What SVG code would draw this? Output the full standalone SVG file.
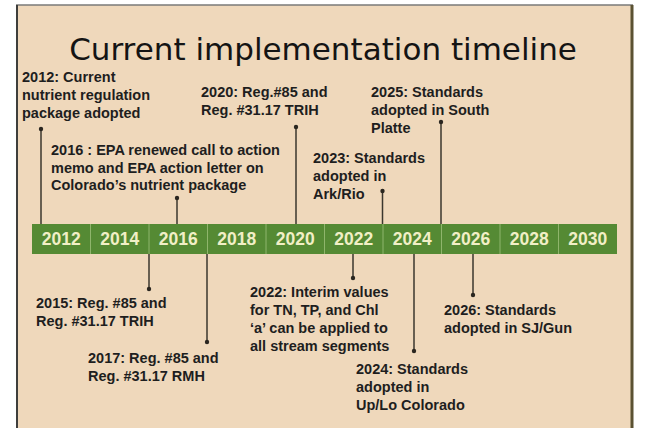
<svg xmlns="http://www.w3.org/2000/svg" width="646" height="428" viewBox="0 0 646 428">
  <style>
    .title { font-family: "DejaVu Sans", sans-serif; font-size: 31px; fill: #141414; }
    .lbl { font-family: "Liberation Sans", Arial, sans-serif; font-size: 14.5px; font-weight: bold; fill: #1e1e1e; }
    .yr { font-family: "Liberation Sans", Arial, sans-serif; font-size: 17.5px; font-weight: bold; fill: #f1efc6; text-anchor: middle; }
    .cell { fill: #558a34; }
    .div { stroke: #8fb56c; stroke-width: 1; }
    .conn line { stroke: #3b372e; stroke-width: 1.5; }
    .conn circle { fill: #2a2620; }
  </style>

  <!-- page -->
  <rect x="0" y="0" width="646" height="428" fill="#ffffff"/>
  <rect x="17" y="5" width="615" height="423" fill="#efd8bb"/>
  <line x1="16" y1="5" x2="633" y2="5" stroke="#7a7a78" stroke-width="1.5"/>
  <line x1="17" y1="5" x2="17" y2="428" stroke="#3e3e3c" stroke-width="2"/>
  <line x1="632" y1="5" x2="632" y2="428" stroke="#5b5232" stroke-width="3"/>

  <text class="title" x="323" y="60" text-anchor="middle">Current implementation timeline</text>

  <!-- year bar -->
  <g id="timeline-bar">
    <rect class="cell" x="32" y="224" width="585" height="30"/>
    <line class="div" x1="90.5" y1="224" x2="90.5" y2="254"/>
    <line class="div" x1="149" y1="224" x2="149" y2="254"/>
    <line class="div" x1="207.5" y1="224" x2="207.5" y2="254"/>
    <line class="div" x1="266" y1="224" x2="266" y2="254"/>
    <line class="div" x1="324.5" y1="224" x2="324.5" y2="254"/>
    <line class="div" x1="383" y1="224" x2="383" y2="254"/>
    <line class="div" x1="441.5" y1="224" x2="441.5" y2="254"/>
    <line class="div" x1="500" y1="224" x2="500" y2="254"/>
    <line class="div" x1="558.5" y1="224" x2="558.5" y2="254"/>
    <text class="yr" x="61.3" y="245">2012</text>
    <text class="yr" x="119.8" y="245">2014</text>
    <text class="yr" x="178.3" y="245">2016</text>
    <text class="yr" x="236.8" y="245">2018</text>
    <text class="yr" x="295.3" y="245">2020</text>
    <text class="yr" x="353.8" y="245">2022</text>
    <text class="yr" x="412.3" y="245">2024</text>
    <text class="yr" x="470.8" y="245">2026</text>
    <text class="yr" x="529.3" y="245">2028</text>
    <text class="yr" x="587.8" y="245">2030</text>
  </g>

  <!-- connectors -->
  <g id="connectors" class="conn">
    <line x1="41" y1="129" x2="41" y2="224"/><circle cx="41" cy="129" r="2.2"/>
    <line x1="177" y1="198" x2="177" y2="224"/><circle cx="177" cy="198" r="2.2"/>
    <line x1="296" y1="127" x2="296" y2="224"/><circle cx="296" cy="127" r="2.2"/>
    <line x1="382.5" y1="191" x2="382.5" y2="224"/><circle cx="382.5" cy="191" r="2.2"/>
    <line x1="441" y1="122" x2="441" y2="224"/><circle cx="441" cy="122" r="2.2"/>
    <line x1="149" y1="254" x2="149" y2="289"/><circle cx="149" cy="289" r="2.2"/>
    <line x1="207" y1="254" x2="207" y2="342"/><circle cx="207" cy="342" r="2.2"/>
    <line x1="353" y1="254" x2="353" y2="278"/><circle cx="353" cy="278" r="2.2"/>
    <line x1="414" y1="254" x2="414" y2="351"/><circle cx="414" cy="351" r="2.2"/>
    <line x1="473" y1="254" x2="473" y2="295"/><circle cx="473" cy="295" r="2.2"/>
  </g>

  <!-- events above the bar -->
  <g id="e2012">
    <text class="lbl" x="22" y="82">2012: Current</text>
    <text class="lbl" x="22" y="100">nutrient regulation</text>
    <text class="lbl" x="22" y="118">package adopted</text>
  </g>
  <g id="e2016">
    <text class="lbl" x="51" y="155">2016 : EPA renewed call to action</text>
    <text class="lbl" x="51" y="172.5">memo and EPA action letter on</text>
    <text class="lbl" x="51" y="190">Colorado’s nutrient package</text>
  </g>
  <g id="e2020">
    <text class="lbl" x="201" y="97">2020: Reg.#85 and</text>
    <text class="lbl" x="201" y="115">Reg. #31.17 TRIH</text>
  </g>
  <g id="e2023">
    <text class="lbl" x="313" y="163">2023: Standards</text>
    <text class="lbl" x="313" y="181">adopted in</text>
    <text class="lbl" x="313" y="198.5">Ark/Rio</text>
  </g>
  <g id="e2025">
    <text class="lbl" x="371" y="97">2025: Standards</text>
    <text class="lbl" x="371" y="115">adopted in South</text>
    <text class="lbl" x="371" y="133">Platte</text>
  </g>

  <!-- events below the bar -->
  <g id="e2015">
    <text class="lbl" x="36" y="308">2015: Reg. #85 and</text>
    <text class="lbl" x="36" y="326">Reg. #31.17 TRIH</text>
  </g>
  <g id="e2017">
    <text class="lbl" x="88" y="363">2017: Reg. #85 and</text>
    <text class="lbl" x="88" y="381">Reg. #31.17 RMH</text>
  </g>
  <g id="e2022">
    <text class="lbl" x="250" y="297">2022: Interim values</text>
    <text class="lbl" x="250" y="315">for TN, TP, and Chl</text>
    <text class="lbl" x="250" y="333">‘a’ can be applied to</text>
    <text class="lbl" x="250" y="351">all stream segments</text>
  </g>
  <g id="e2024">
    <text class="lbl" x="356" y="374">2024: Standards</text>
    <text class="lbl" x="356" y="392">adopted in</text>
    <text class="lbl" x="356" y="410">Up/Lo Colorado</text>
  </g>
  <g id="e2026">
    <text class="lbl" x="444" y="315">2026: Standards</text>
    <text class="lbl" x="444" y="333">adopted in SJ/Gun</text>
  </g>
</svg>
